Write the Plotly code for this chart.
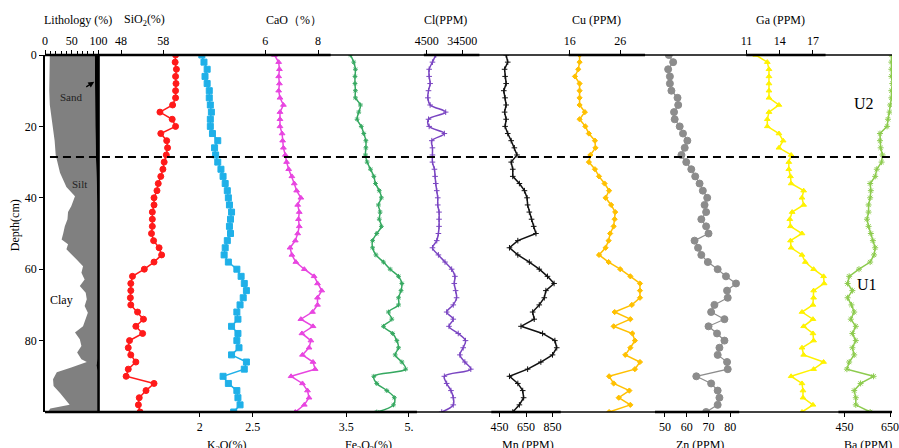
import plotly.graph_objects as go

# ---------------- data ----------------
depth = [0, 2, 4, 6, 8, 10, 12, 14, 16, 18, 20, 22, 24, 26, 28, 30, 32, 34, 36, 38,
         40, 42, 44, 46, 48, 50, 52, 54, 56, 58, 60, 62, 64, 66, 68, 70, 72, 74, 76, 78,
         80, 82, 84, 86, 88, 90, 92, 94, 96, 98, 100]

sio2 = [60.9, 60.8, 61.1, 60.9, 61.0, 60.9, 60.9, 60.2, 57.2, 60.1, 60.9, 57.4, 58.8, 59.0, 58.7,
        58.2, 57.9, 57.4, 56.8, 56.5, 55.8, 55.8, 55.4, 55.4, 55.4, 55.2, 55.7, 57.0, 57.6, 55.8,
        53.5, 50.7, 50.3, 50.3, 50.2, 50.3, 51.9, 53.3, 51.5, 53.1, 50.0, 49.7, 50.3, 51.5, 49.7,
        49.2, 55.8, 53.9, 52.3, 52.1, 52.5]
k2o = [2.02, 2.04, 2.07, 2.05, 2.07, 2.09, 2.09, 2.10, 2.11, 2.10, 2.10, 2.12, 2.17, 2.14, 2.15,
       2.17, 2.20, 2.22, 2.24, 2.26, 2.27, 2.28, 2.30, 2.29, 2.28, 2.29, 2.26, 2.24, 2.23, 2.27,
       2.35, 2.39, 2.42, 2.44, 2.41, 2.38, 2.35, 2.36, 2.30, 2.36, 2.35, 2.37, 2.30, 2.44, 2.42,
       2.22, 2.27, 2.35, 2.36, 2.38, 2.32]
cao = [6.35, 6.51, 6.54, 6.51, 6.54, 6.51, 6.56, 6.69, 6.56, 6.56, 6.56, 6.64, 6.66, 6.69, 6.76,
       6.81, 6.89, 7.01, 7.10, 7.19, 7.35, 7.23, 7.29, 7.26, 7.29, 7.23, 7.14, 6.94, 7.01, 7.16,
       7.48, 7.85, 7.98, 8.14, 7.98, 7.98, 7.79, 7.35, 7.81, 7.39, 7.73, 7.66, 7.41, 7.81, 7.89,
       6.98, 7.41, 7.60, 7.66, 7.48, 7.14]
fe2o3 = [3.60, 3.68, 3.72, 3.71, 3.71, 3.72, 3.72, 3.84, 3.80, 3.76, 3.86, 3.92, 3.97, 3.97, 3.96,
         4.00, 4.08, 4.16, 4.20, 4.29, 4.34, 4.27, 4.31, 4.29, 4.34, 4.23, 4.13, 4.13, 4.21, 4.39,
         4.55, 4.75, 4.83, 4.81, 4.75, 4.75, 4.51, 4.59, 4.39, 4.61, 4.71, 4.75, 4.67, 4.83, 4.92,
         4.16, 4.23, 4.47, 4.65, 4.63, 4.23]
cl = [12060, 9260, 6460, 6460, 7300, 5900, 5340, 7300, 20460, 5900, 6460, 19340, 8700, 9260, 9260,
      9260, 10940, 11500, 12060, 12900, 13740, 13740, 14860, 14860, 14860, 14300, 12900, 9260, 14300, 19900,
      25500, 28300, 27740, 28860, 29700, 26900, 21300, 26900, 23260, 31100, 37260, 35300, 32500, 36700, 41740,
      19340, 21300, 24940, 26900, 26900, 17100]
mn = [500, 512, 488, 492, 500, 482, 492, 500, 488, 500, 492, 512, 538, 562, 582,
      538, 550, 550, 600, 638, 658, 662, 675, 692, 708, 725, 588, 525, 588, 675,
      750, 812, 862, 800, 788, 750, 700, 712, 612, 775, 868, 882, 850, 762, 662,
      525, 588, 625, 632, 600, 550]
cu = [17.96, 17.96, 17.7, 17.05, 17.96, 17.96, 17.96, 17.96, 19.0, 17.96, 19.1, 19.8, 21.0, 21.1, 20.1,
      19.8, 21.0, 21.8, 22.9, 23.8, 23.1, 24.2, 25.0, 24.9, 24.7, 24.0, 23.7, 23.1, 21.8, 23.7,
      26.0, 28.0, 29.9, 29.9, 29.9, 28.3, 24.9, 28.0, 24.7, 28.4, 28.9, 28.0, 27.0, 29.9, 28.9,
      23.8, 24.7, 27.8, 25.7, 28.0, 23.8]
zn = [51.8, 53.8, 51.5, 52.3, 52.3, 53.0, 55.8, 56.1, 54.2, 54.5, 56.8, 58.3, 60.3, 59.1, 57.6,
      59.8, 62.1, 63.9, 65.9, 67.4, 69.4, 68.2, 68.9, 66.7, 68.9, 70.0, 63.6, 65.2, 66.7, 69.7,
      74.2, 78.0, 82.6, 78.5, 78.8, 72.7, 71.2, 77.3, 70.0, 73.9, 77.3, 75.0, 74.2, 78.5, 78.8,
      64.4, 71.2, 74.2, 75.0, 74.2, 68.9]
ga = [11.84, 12.88, 13.03, 13.03, 13.03, 13.03, 13.03, 13.93, 13.03, 12.88, 12.88, 13.93, 14.31, 13.93, 15.03,
      14.82, 14.82, 14.97, 15.03, 16.16, 16.01, 16.16, 15.12, 14.91, 14.97, 16.01, 14.97, 15.03, 16.01, 16.31,
      17.06, 17.96, 18.01, 17.06, 17.06, 17.0, 16.01, 17.0, 16.16, 17.0, 17.06, 16.01, 16.16, 17.96, 17.06,
      15.03, 16.01, 16.1, 16.1, 17.0, 16.01]
ba = [656, 656, 656, 656, 660, 656, 656, 651, 648, 641, 637, 606, 606, 609, 617,
      613, 592, 585, 563, 566, 563, 556, 556, 549, 556, 566, 575, 585, 580, 563,
      514, 471, 464, 485, 464, 481, 493, 478, 500, 485, 500, 485, 493, 471, 461,
      578, 521, 493, 500, 500, 563]

# lithology (cumulative %): clay boundary and clay+silt boundary
litho_depth = [0, 5, 10, 14, 19, 24, 28, 33, 37, 39.6, 42.4, 44, 46, 48, 50, 51.7, 53, 54.4, 57.3, 59.2,
               61, 62.9, 64.7, 66.6, 68.4, 70.3, 72.2, 74, 76, 77.7, 79.6, 81.5, 83.3, 85.2, 86, 87.5,
               88.9, 90.8, 92.7, 94.7, 96.4, 98, 99, 100]
clay = [9, 8, 8, 9, 14, 18, 20, 28, 40, 56, 49, 43, 42, 37, 34, 31, 43, 40, 59, 71,
        68, 74, 65, 76, 78, 74, 80, 76, 71, 56, 65, 68, 60, 68, 78, 49,
        22, 15, 16, 28, 38, 46, 10, 5]
sand_depth = [0, 10, 14, 20, 28, 33, 39, 45, 85, 87, 88.5, 100]
clay_silt = [93, 93, 93, 94, 95, 96, 98, 98.5, 98.5, 96, 98.5, 98.5]
total_depth = [0, 100]
total = [100, 100]
boundary_depth = 28.6

# ---------------- layout geometry ----------------
W, H = 899, 448
L, R, T, B = 45, 899, 55, 412
PW, PH = R - L, B - T


def px2paper_x(p):
    return (p - L) / PW


def px2paper_y(p):
    return (B - p) / PH


def xr(v1, p1, v2, p2):
    ppu = (p2 - p1) / (v2 - v1)
    return [v1 - (p1 - L) / ppu, v1 + (R - p1) / ppu]


FONT = "Liberation Serif"
tickfont = dict(family=FONT, size=12, color="black")

fig = go.Figure()

# lithology
fig.add_trace(go.Scatter(x=clay, y=litho_depth, mode="lines", line=dict(width=0, color="#808080"),
                         xaxis="x", yaxis="y", hoverinfo="skip"))
fig.add_trace(go.Scatter(x=clay_silt, y=sand_depth, mode="lines", line=dict(width=0, color="#808080"),
                         fill="tonextx", fillcolor="#808080", xaxis="x", yaxis="y", hoverinfo="skip"))
fig.add_trace(go.Scatter(x=total, y=total_depth, mode="lines", line=dict(width=0, color="black"),
                         fill="tonextx", fillcolor="black", xaxis="x", yaxis="y", hoverinfo="skip"))

series = [
    # name, values, side, anchors, tickvals, ticktext, color, symbol, msize, lwidth, shape
    ("SiO2", sio2, "top", (48, 121.7, 58, 164.3), [48, 58], ["48", "58"], "#FF1A1A", "circle", 6, 1.5, "linear"),
    ("K2O", k2o, "bottom", (2, 201, 2.5, 254.5), [2, 2.5], ["2", "2.5"], "#1FB0E8", "square", 6, 1.5, "linear"),
    ("CaO", cao, "top", (6, 267, 8, 320.3), [6, 8], ["6", "8"], "#E845E0", "triangle-up", 5, 1.5, "linear"),
    ("Fe2O3", fe2o3, "bottom", (3.5, 348.7, 5, 412), [3.5, 5], ["3.5", "5."], "#35A860", "asterisk-open", 4, 1.5, "spline"),
    ("Cl", cl, "top", (4500, 430, 34500, 465.7), [4500, 34500], ["4500", "34500"], "#7A45C2", "cross-thin-open", 4, 1.5, "spline"),
    ("Mn", mn, "bottom", (450, 503.3, 850, 556.7), [450, 650, 850], ["450", "650", "850"], "#111111", "cross-thin-open", 4, 1.5, "linear"),
    ("Cu", cu, "top", (16, 574, 26, 625), [16, 26], ["16", "26"], "#FFC000", "diamond", 4, 1.5, "linear"),
    ("Zn", zn, "bottom", (50, 670, 80, 736), [50, 60, 70, 80], ["50", "60", "70", "80"], "#8C8C8C", "circle", 7, 1.2, "linear"),
    ("Ga", ga, "top", (11, 752.3, 17, 819.3), [11, 14, 17], ["11", "14", "17"], "#FFF200", "triangle-up", 5, 1.5, "linear"),
    ("Ba", ba, "bottom", (450, 851, 650, 897), [450, 650], ["450", "650"], "#8DCB4E", "asterisk-open", 5, 1.5, "linear"),
]

layout = dict(
    width=W, height=H,
    margin=dict(l=L, r=W - R, t=T, b=H - B, pad=0),
    paper_bgcolor="white", plot_bgcolor="white",
    showlegend=False,
    yaxis=dict(range=[100, 0], tickvals=[0, 20, 40, 60, 80], ticks="outside", ticklen=4,
               tickcolor="black", showline=True, linecolor="black", linewidth=1.5,
               showgrid=False, zeroline=False, tickfont=tickfont, anchor="x"),
    xaxis=dict(domain=[0, 1], anchor="y", side="top", range=xr(0, 45, 100, 99),
               tickvals=[0, 50, 100], ticktext=["0", "50", "100"],
               ticks="outside", ticklen=4, tickcolor="black", showline=False, showgrid=False,
               zeroline=False, tickfont=tickfont,
               minor=dict(tickvals=[10, 20, 30, 40, 60, 70, 80, 90], ticks="outside",
                          ticklen=3, tickcolor="black")),
)

for i, (name, vals, side, anc, tv, tt, col, sym, ms, lw, shp) in enumerate(series):
    n = i + 2
    fig.add_trace(go.Scatter(
        x=vals, y=depth, mode="lines+markers", name=name,
        xaxis=f"x{n}", yaxis="y",
        line=dict(color=col, width=lw, shape=shp),
        marker=dict(symbol=sym, size=ms, color=col, line=dict(color=col, width=1)),
    ))
    layout[f"xaxis{n}"] = dict(
        domain=[0, 1], anchor="y", overlaying="x", side=side, range=xr(*anc),
        tickvals=tv, ticktext=tt, ticks="outside", ticklen=4, tickcolor="black", tickwidth=1.2,
        showline=False, showgrid=False, zeroline=False, tickfont=tickfont,
        ticklabeloverflow="allow",
    )

# frame lines
shapes = []
shapes.append(dict(type="line", xref="paper", yref="paper", x0=0, x1=1, y0=1, y1=1,
                   line=dict(color="black", width=1.5)))
shapes.append(dict(type="line", xref="paper", yref="paper", x0=0, x1=1, y0=0, y1=0,
                   line=dict(color="black", width=1.5)))
for a, b in [(45, 333), (427, 483), (573, 650), (752, 832)]:
    shapes.append(dict(type="line", xref="paper", yref="paper", x0=px2paper_x(a), x1=px2paper_x(b),
                       y0=1, y1=1, line=dict(color="black", width=2.5)))
for a, b in [(45, 420), (495, 565), (660, 745), (845, 899)]:
    shapes.append(dict(type="line", xref="paper", yref="paper", x0=px2paper_x(a), x1=px2paper_x(b),
                       y0=0, y1=0, line=dict(color="black", width=2.5)))
# lithology right edge
shapes.append(dict(type="line", xref="x", yref="paper", x0=100, x1=100, y0=0, y1=1,
                   line=dict(color="black", width=2.5)))
# unit boundary
shapes.append(dict(type="line", xref="paper", yref="y", x0=px2paper_x(50), x1=1,
                   y0=boundary_depth, y1=boundary_depth,
                   line=dict(color="black", width=2, dash="8px,5px")))
layout["shapes"] = shapes

# annotations: axis titles
ann = []
top_titles = [("Lithology (%)", 78), ("SiO<sub>2</sub>(%)", 145), ("CaO（%）", 296),
              ("Cl(PPM)", 449), ("Cu (PPM)", 601), ("Ga (PPM)", 787)]
for txt, cx in top_titles:
    ann.append(dict(text=txt, xref="paper", yref="paper", x=px2paper_x(cx), y=px2paper_y(20),
                    xanchor="center", yanchor="middle", showarrow=False,
                    font=dict(family=FONT, size=12, color="black")))
bot_titles = [("K<sub>2</sub>O(%)", 228), ("Fe<sub>2</sub>O<sub>3</sub>(%)", 371), ("Mn (PPM)", 532),
              ("Zn (PPM)", 705), ("Ba (PPM)", 875)]
for txt, cx in bot_titles:
    ann.append(dict(text=txt, xref="paper", yref="paper", x=px2paper_x(cx), y=px2paper_y(436),
                    xanchor="center", yanchor="top", showarrow=False,
                    font=dict(family=FONT, size=12, color="black")))
ann.append(dict(text="Depth(cm)", xref="paper", yref="paper", x=px2paper_x(15), y=px2paper_y(225),
                textangle=-90, xanchor="center", yanchor="middle", showarrow=False,
                font=dict(family=FONT, size=12, color="black")))
# lithology labels
ann.append(dict(text="Sand", xref="x", yref="y", x=50, y=11.8, showarrow=False,
                font=dict(family=FONT, size=11, color="#222222")))
ann.append(dict(text="Silt", xref="x", yref="y", x=65, y=36, showarrow=False,
                font=dict(family=FONT, size=11, color="#222222")))
ann.append(dict(text="Clay", xref="x", yref="y", x=31.5, y=68.6, showarrow=False,
                font=dict(family=FONT, size=12, color="black")))
ann.append(dict(text=" ", xref="x", yref="y", x=92, y=7.5, ax=-11, ay=7, showarrow=True,
                arrowhead=2, arrowsize=1, arrowwidth=1.2, arrowcolor="black"))
# units
ann.append(dict(text="U2", xref="paper", yref="y", x=px2paper_x(883), y=13.7, showarrow=False,
                font=dict(family=FONT, size=16, color="black")))
ann.append(dict(text="U1", xref="paper", yref="y", x=px2paper_x(886), y=64.4, showarrow=False,
                font=dict(family=FONT, size=16, color="black")))
layout["annotations"] = ann

fig.update_layout(**layout)
fig.write_html("out.html", config={"displayModeBar": False},
               post_script="document.body.style.margin='0px';")
